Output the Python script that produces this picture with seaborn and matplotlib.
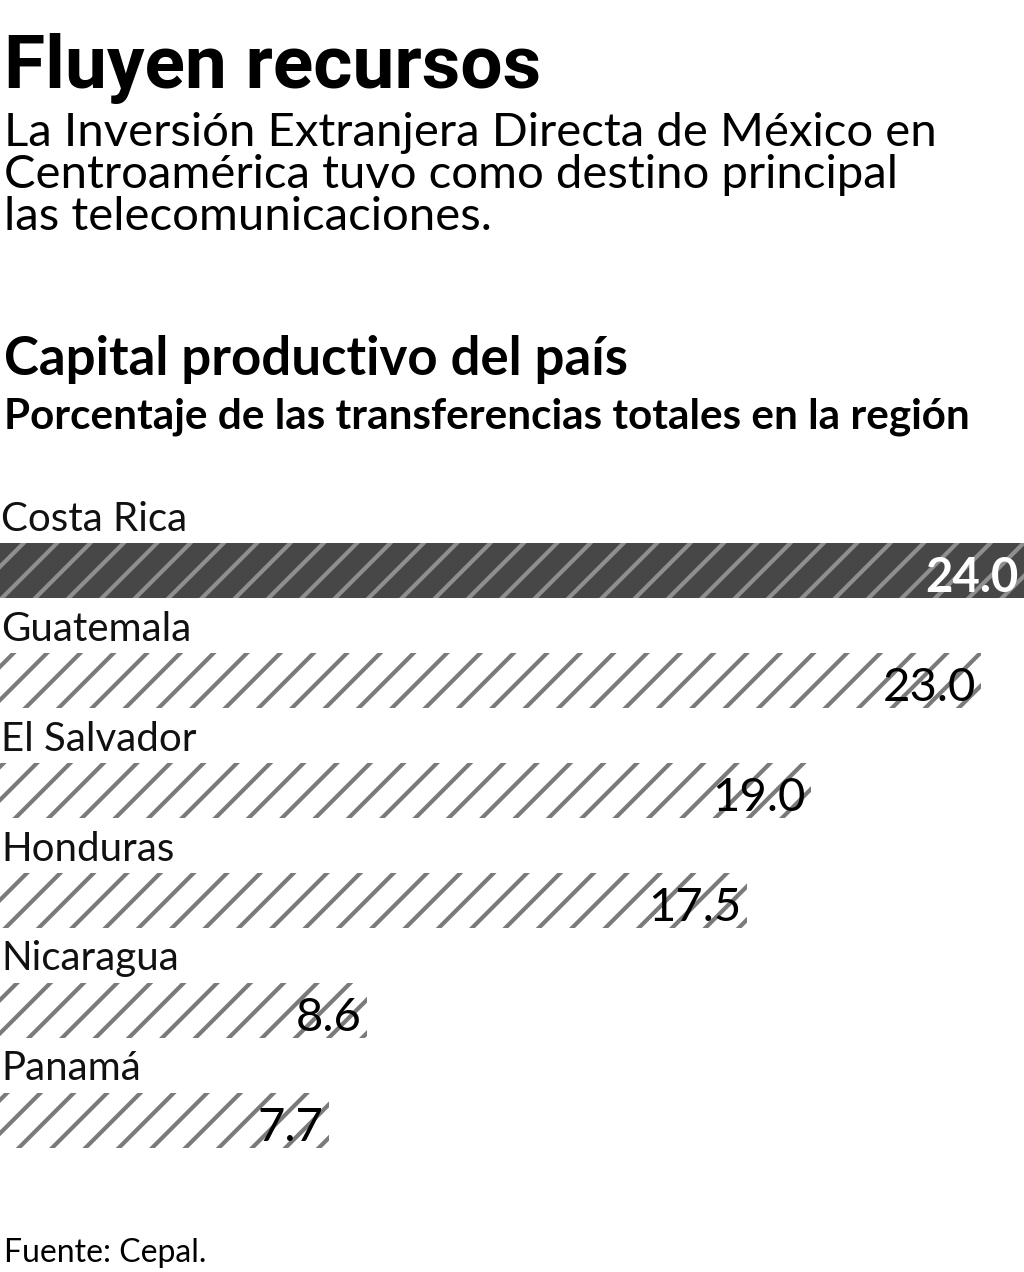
import matplotlib
matplotlib.use("Agg")
import matplotlib.pyplot as plt
import seaborn as sns
import pandas as pd

countries = ["Costa Rica", "Guatemala", "El Salvador", "Honduras", "Nicaragua", "Panamá"]
values = [24.0, 23.0, 19.0, 17.5, 8.6, 7.7]

df = pd.DataFrame({"pais": countries, "valor": values})

DPI = 200
W, H = 1024, 1272
fig = plt.figure(figsize=(W / DPI, H / DPI), dpi=DPI, facecolor="white")
plt.rcParams["hatch.linewidth"] = 1.5

# axes spans y 490..1160 px
ax = fig.add_axes([0, 1 - 1160 / H, 1, (1160 - 490) / H])
sns.barplot(data=df, x="valor", y="pais", orient="h", width=0.5,
            color="white", ax=ax)

for i, p in enumerate(ax.patches):
    p.set_linewidth(0)
    p.set_hatch("//")
    if i == 0:
        p.set_facecolor("#474747")
        p.set_edgecolor("#8f8f8f")
    else:
        p.set_facecolor("white")
        p.set_edgecolor("#7a7a7a")

for i, (c, v) in enumerate(zip(countries, values)):
    ax.text(0.03, i - 0.36, c, ha="left", va="baseline", fontsize=14.5,
            family="Lato", color="#111111")
    ax.text(v - 0.12, i + 0.07, f"{v:.1f}", ha="right", va="center",
            fontsize=17, family="Lato",
            fontweight="bold" if i == 0 else "normal",
            color="white" if i == 0 else "black")

ax.set_xlim(0, 24)
ax.set_ylim(5 + 40 / 110, -0.73)
ax.axis("off")

fig.text(0.004, 1 - 88 / H, "Fluyen recursos", fontsize=27, fontweight="bold",
         family="Roboto", va="baseline", ha="left")
fig.text(0.004, 1 - 112 / H,
         "La Inversión Extranjera Directa de México en\nCentroamérica tuvo como destino principal\nlas telecomunicaciones.",
         fontsize=17, family="Lato", va="top", ha="left", linespacing=1.0)
fig.text(0.004, 1 - 375 / H, "Capital productivo del país", fontsize=19,
         fontweight="bold", family="Lato", va="baseline", ha="left")
fig.text(0.004, 1 - 428 / H, "Porcentaje de las transferencias totales en la región",
         fontsize=15.2, fontweight="bold", family="Lato", va="baseline", ha="left")
fig.text(0.004, 1 - 1262 / H, "Fuente: Cepal.", fontsize=11.5, family="Lato",
         va="baseline", ha="left")

fig.savefig("out.png", dpi=DPI, facecolor="white")
